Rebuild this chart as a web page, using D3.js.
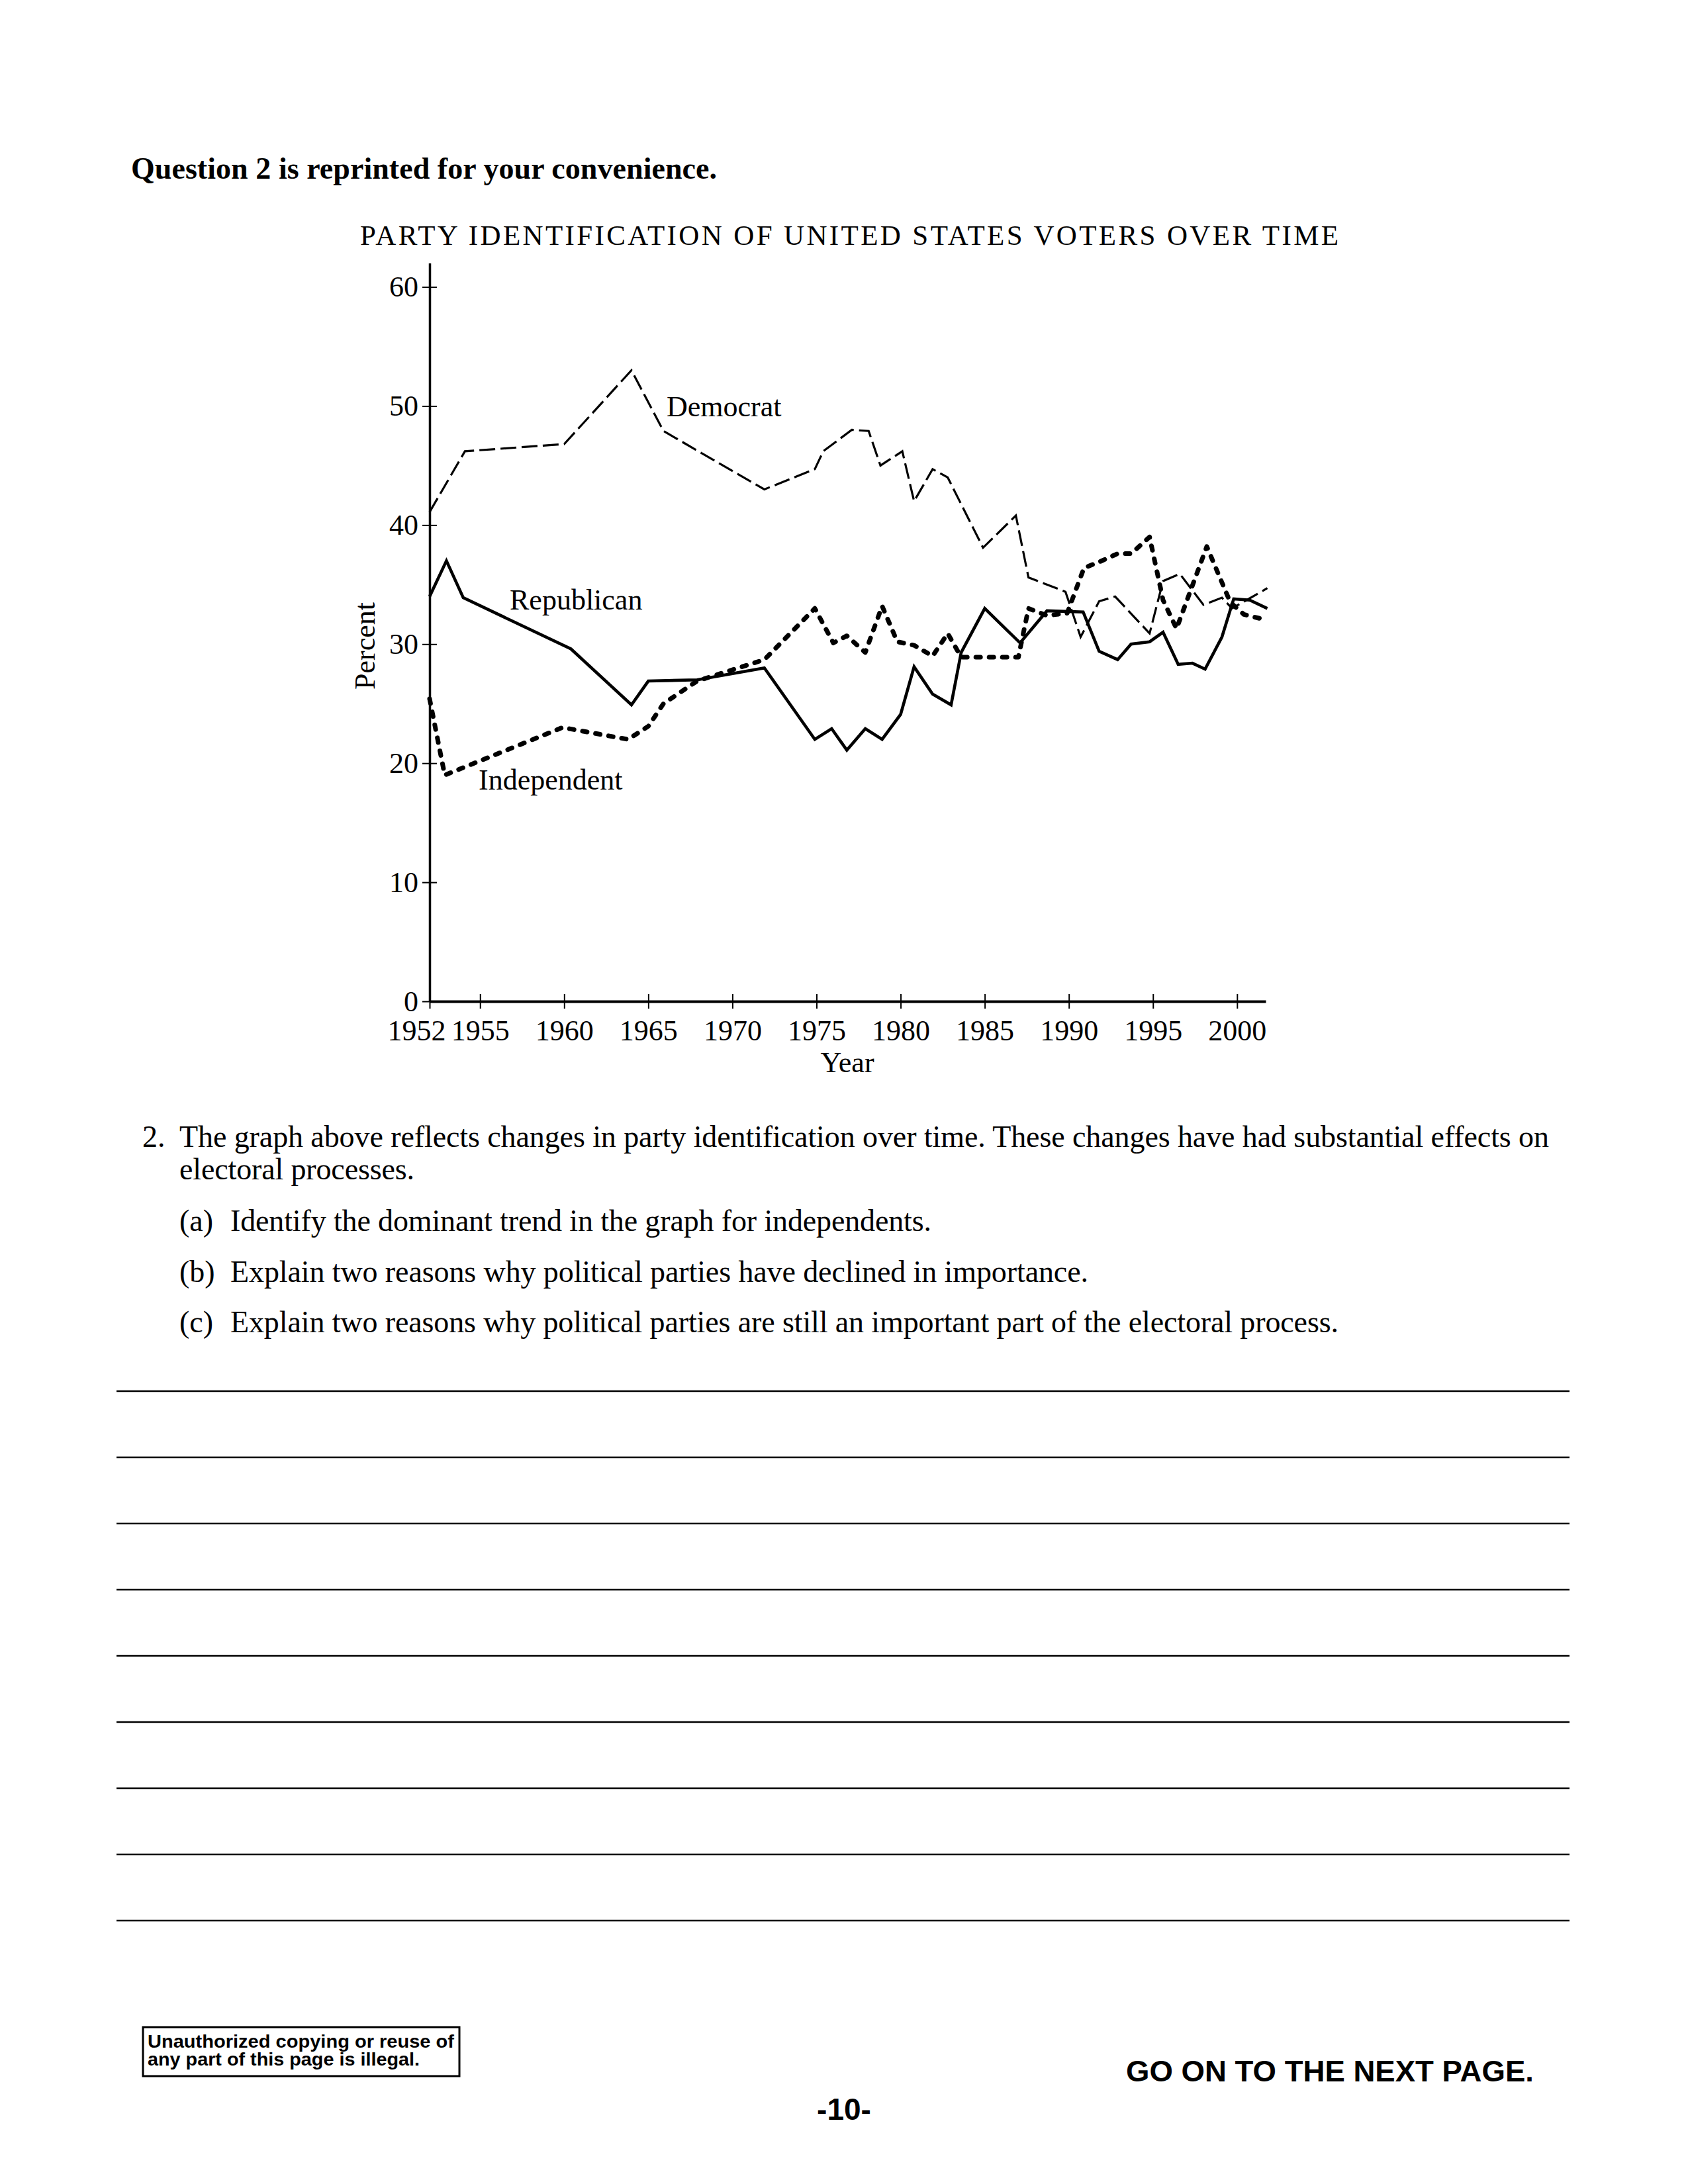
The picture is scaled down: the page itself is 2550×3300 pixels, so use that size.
<!DOCTYPE html>
<html>
<head>
<meta charset="utf-8">
<script src="https://cdn.jsdelivr.net/npm/d3@7"></script>
<style>
  html, body { margin: 0; padding: 0; background: #ffffff; }
  svg { display: block; }
</style>
</head>
<body>
<script>
// ---------------- DATA ----------------
const seriesNames = ["Democrat", "Republican", "Independent"];

const demYears  = [1952.0, 1954.1, 1960.0, 1964.0, 1965.9, 1971.9, 1974.9, 1975.4, 1977.1, 1978.1, 1978.8, 1980.1, 1980.8, 1981.9, 1982.8, 1984.9, 1986.85, 1987.6, 1989.8, 1990.7, 1991.8, 1992.75, 1994.8, 1995.6, 1996.6, 1998.0, 1999.1, 1999.7, 2001.8];
const demValues = [41.1, 46.2, 46.8, 53.0, 47.9, 43.0, 44.7, 46.2, 48.0, 47.9, 45.0, 46.2, 42.0, 44.7, 44.0, 38.1, 40.8, 35.6, 34.4, 30.6, 33.6, 34.0, 30.9, 35.3, 35.9, 33.3, 33.9, 33.0, 34.7];

const repYears  = [1952.0, 1953.0, 1954.0, 1960.4, 1964.0, 1965.0, 1967.9, 1971.9, 1974.9, 1975.9, 1976.8, 1977.9, 1978.9, 1980.0, 1980.8, 1981.9, 1983.0, 1983.6, 1985.0, 1987.1, 1988.7, 1990.85, 1991.8, 1992.9, 1993.7, 1994.8, 1995.6, 1996.5, 1997.35, 1998.1, 1999.1, 1999.8, 2000.75, 2001.8];
const repValues = [34.0, 37.0, 33.9, 29.6, 24.9, 26.9, 27.0, 28.0, 22.0, 22.9, 21.1, 22.9, 22.0, 24.1, 28.1, 25.8, 24.9, 29.3, 33.0, 30.1, 32.8, 32.7, 29.4, 28.7, 30.0, 30.2, 31.0, 28.3, 28.4, 27.9, 30.6, 33.8, 33.7, 33.0];

const indYears  = [1952.0, 1952.9, 1959.9, 1963.8, 1965.0, 1965.9, 1967.9, 1971.9, 1974.9, 1976.0, 1976.8, 1977.9, 1978.9, 1979.8, 1980.8, 1981.9, 1982.8, 1983.6, 1987.0, 1987.6, 1988.7, 1989.9, 1990.9, 1991.8, 1992.9, 1993.7, 1994.8, 1995.6, 1996.4, 1998.2, 1999.6, 2000.4, 2001.8];
const indValues = [25.4, 19.0, 23.0, 22.0, 23.1, 25.0, 26.9, 28.7, 33.0, 30.1, 30.7, 29.3, 33.2, 30.2, 29.9, 29.0, 30.9, 28.9, 28.9, 33.0, 32.4, 32.6, 36.4, 36.9, 37.6, 37.6, 39.0, 33.7, 31.3, 38.2, 33.5, 32.5, 32.0];

const xTickValues = [1952, 1955, 1960, 1965, 1970, 1975, 1980, 1985, 1990, 1995, 2000];
const yTickValues = [0, 10, 20, 30, 40, 50, 60];

const headerText = "Question 2 is reprinted for your convenience.";
const chartTitle = "PARTY IDENTIFICATION OF UNITED STATES VOTERS OVER TIME";
const yAxisTitle = "Percent";
const xAxisTitle = "Year";
const questionLines = [
  "The graph above reflects changes in party identification over time. These changes have had substantial effects on",
  "electoral processes."
];
const partLabels = ["(a)", "(b)", "(c)"];
const partTexts = [
  "Identify the dominant trend in the graph for independents.",
  "Explain two reasons why political parties have declined in importance.",
  "Explain two reasons why political parties are still an important part of the electoral process."
];
const noticeLines = ["Unauthorized copying or reuse of", "any part of this page is illegal."];
const footerText = "GO ON TO THE NEXT PAGE.";
const pageNumber = "-10-";

// ---------------- DRAW ----------------
const W = 2550, H = 3300;
const SERIF = "'Liberation Serif', 'Times New Roman', Times, serif";
const SANS = "'Liberation Sans', Arial, Helvetica, sans-serif";

const svg = d3.select("body").append("svg")
  .attr("width", W).attr("height", H)
  .attr("viewBox", `0 0 ${W} ${H}`);

svg.append("rect").attr("width", W).attr("height", H).attr("fill", "#fff");

// header
svg.append("text")
  .attr("x", 198).attr("y", 270)
  .attr("font-family", SERIF).attr("font-weight", "bold").attr("font-size", 46)
  .attr("textLength", 885).attr("lengthAdjust", "spacing")
  .text(headerText);

// title
svg.append("text")
  .attr("x", 544).attr("y", 370)
  .attr("font-family", SERIF).attr("font-size", 43)
  .attr("textLength", 1478).attr("lengthAdjust", "spacing")
  .text(chartTitle);

// scales
const x = d3.scaleLinear().domain([1952, 2001.7]).range([649, 1912]);
const y = d3.scaleLinear().domain([0, 62]).range([1513, 397.6]);

// y axis
const yAxisG = svg.append("g")
  .attr("transform", `translate(${x(1952)},0)`)
  .call(d3.axisLeft(y).tickValues(yTickValues).tickSizeInner(11).tickSizeOuter(0).tickPadding(6));
yAxisG.select(".domain").attr("stroke", "#000").attr("stroke-width", 3.5);
yAxisG.selectAll(".tick line").attr("x1", 11).attr("stroke", "#000").attr("stroke-width", 2);
yAxisG.selectAll(".tick text")
  .attr("font-family", SERIF).attr("font-size", 44).attr("fill", "#000");

// x axis
const xAxisG = svg.append("g")
  .attr("transform", `translate(0,${y(0)})`)
  .call(d3.axisBottom(x).tickValues(xTickValues).tickSizeInner(11).tickSizeOuter(0).tickFormat(d3.format("d")));
xAxisG.select(".domain").attr("stroke", "#000").attr("stroke-width", 4);
xAxisG.selectAll(".tick line").attr("y1", -11).attr("stroke", "#000").attr("stroke-width", 2);
xAxisG.selectAll(".tick text")
  .attr("font-family", SERIF).attr("font-size", 44).attr("fill", "#000")
  .attr("y", 59).attr("dy", null)
  .attr("dx", d => d === 1952 ? -20 : 0);

// axis titles
svg.append("text")
  .attr("transform", `translate(566,976) rotate(-90)`)
  .attr("text-anchor", "middle")
  .attr("font-family", SERIF).attr("font-size", 44)
  .text(yAxisTitle);
svg.append("text")
  .attr("x", 1280).attr("y", 1620)
  .attr("text-anchor", "middle")
  .attr("font-family", SERIF).attr("font-size", 44)
  .text(xAxisTitle);

// lines
const line = d3.line().x(d => x(d[0])).y(d => y(d[1]));

svg.append("path")
  .datum(d3.zip(demYears, demValues))
  .attr("d", line)
  .attr("fill", "none").attr("stroke", "#000")
  .attr("stroke-width", 3.2).attr("stroke-dasharray", "24,8")
  .attr("stroke-linejoin", "miter");

svg.append("path")
  .datum(d3.zip(repYears, repValues))
  .attr("d", line)
  .attr("fill", "none").attr("stroke", "#000")
  .attr("stroke-width", 4.6)
  .attr("stroke-linejoin", "miter");

svg.append("path")
  .datum(d3.zip(indYears, indValues))
  .attr("d", line)
  .attr("fill", "none").attr("stroke", "#000")
  .attr("stroke-width", 7).attr("stroke-dasharray", "7,13")
  .attr("stroke-linecap", "round").attr("stroke-linejoin", "round");

// series labels
const labelPos = [[1007, 629], [770, 921], [723, 1193]];
seriesNames.forEach((name, i) => {
  svg.append("text")
    .attr("x", labelPos[i][0]).attr("y", labelPos[i][1])
    .attr("font-family", SERIF).attr("font-size", 44)
    .text(name);
});

// question text
svg.append("text")
  .attr("x", 215).attr("y", 1733)
  .attr("font-family", SERIF).attr("font-size", 46)
  .text("2.");
const qWidths = [2069, 355];
const qBase = [1733, 1782];
questionLines.forEach((t, i) => {
  svg.append("text")
    .attr("x", 271).attr("y", qBase[i])
    .attr("font-family", SERIF).attr("font-size", 46)
    .attr("textLength", qWidths[i]).attr("lengthAdjust", "spacing")
    .text(t);
});
const partBase = [1860, 1937, 2013];
const partWidths = [1059, 1296, 1674];
partLabels.forEach((lab, i) => {
  svg.append("text")
    .attr("x", 271).attr("y", partBase[i])
    .attr("font-family", SERIF).attr("font-size", 46)
    .text(lab);
  svg.append("text")
    .attr("x", 348).attr("y", partBase[i])
    .attr("font-family", SERIF).attr("font-size", 46)
    .attr("textLength", partWidths[i]).attr("lengthAdjust", "spacing")
    .text(partTexts[i]);
});

// answer lines
const ruleYs = d3.range(9).map(i => 2102 + i * 100);
svg.selectAll("line.rule").data(ruleYs).enter().append("line")
  .attr("class", "rule")
  .attr("x1", 176).attr("x2", 2371)
  .attr("y1", d => d).attr("y2", d => d)
  .attr("stroke", "#000").attr("stroke-width", 2.5);

// notice box
svg.append("rect")
  .attr("x", 216).attr("y", 3063).attr("width", 478).attr("height", 74)
  .attr("fill", "none").attr("stroke", "#000").attr("stroke-width", 3);
const noticeBase = [3094, 3121];
const noticeWidths = [463, 411];
noticeLines.forEach((t, i) => {
  svg.append("text")
    .attr("x", 223).attr("y", noticeBase[i])
    .attr("font-family", SANS).attr("font-weight", "bold").attr("font-size", 27)
    .attr("textLength", noticeWidths[i]).attr("lengthAdjust", "spacingAndGlyphs")
    .text(t);
});

// footer
svg.append("text")
  .attr("x", 1701).attr("y", 3145)
  .attr("font-family", SANS).attr("font-weight", "bold").attr("font-size", 44)
  .attr("textLength", 616).attr("lengthAdjust", "spacingAndGlyphs")
  .text(footerText);
svg.append("text")
  .attr("x", 1275).attr("y", 3203)
  .attr("text-anchor", "middle")
  .attr("font-family", SANS).attr("font-weight", "bold").attr("font-size", 46)
  .text(pageNumber);
</script>
</body>
</html>
